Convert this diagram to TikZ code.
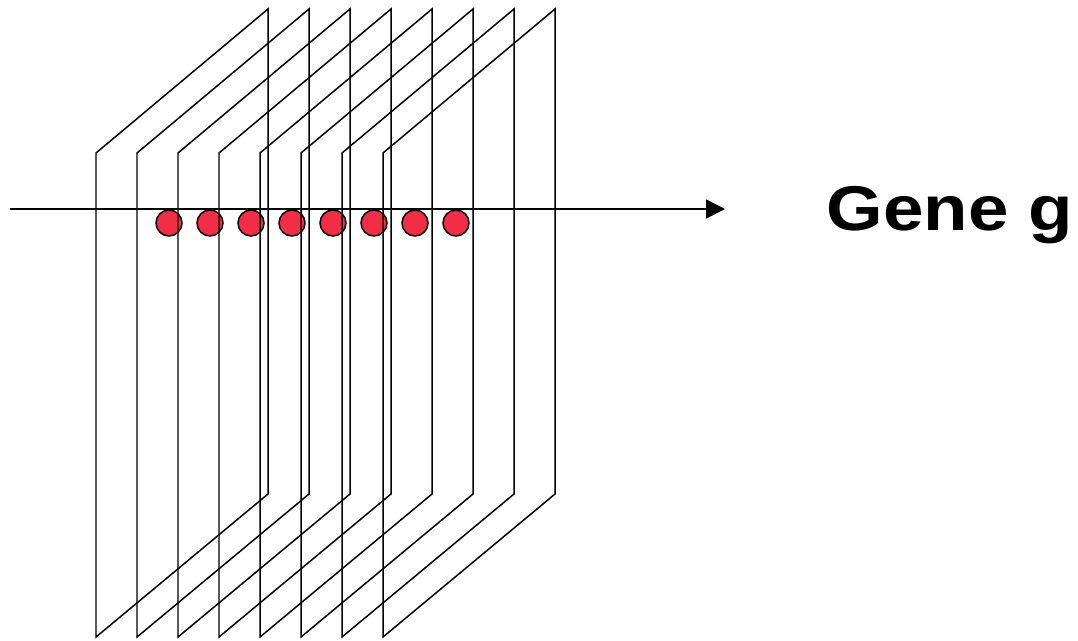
\documentclass[tikz,border=0pt]{standalone}
\usepackage{fontspec}
\setmainfont{Liberation Sans}
\usepackage{xcolor}
\usetikzlibrary{arrows.meta}
\definecolor{dotred}{RGB}{242,45,70}
\tikzset{every node/.style={font=\small}}

\begin{document}
\begin{tikzpicture}[
  x=0.02cm, y=-0.02cm,
  line width=0.85pt,
  sheet/.style={draw=black, line join=miter},
  dot/.style={circle, draw=black, fill=dotred, line width=0.85pt,
    minimum size=26*0.02cm, inner sep=0pt},
  axis/.style={-{Triangle[length=19*0.02cm, width=19*0.02cm]}, line width=0.85pt}
]
\useasboundingbox (0,0) rectangle (1078,640);

% samples on the axis
\foreach \i [evaluate=\i as \xx using 169+41*(\i-1)] in {1,...,8}
  \node[dot] (dot\i) at (\xx,223) {};

% stacked sheets
\foreach \i [evaluate=\i as \xx using 96+41*(\i-1)] in {1,...,8}
  \draw[sheet] (\xx,153) -- (\xx+172,9) -- (\xx+172,494) -- (\xx,637) -- cycle;

\coordinate (axstart) at (10,209);
\coordinate (axend) at (725,209);
\draw[axis] (axstart) -- (axend);

\node[anchor=base west, inner sep=0pt, font=\fontsize{36pt}{40pt}\selectfont\bfseries,
  xscale=1.15] (gene) at (826,230) {Gene g};

\end{tikzpicture}
\end{document}
